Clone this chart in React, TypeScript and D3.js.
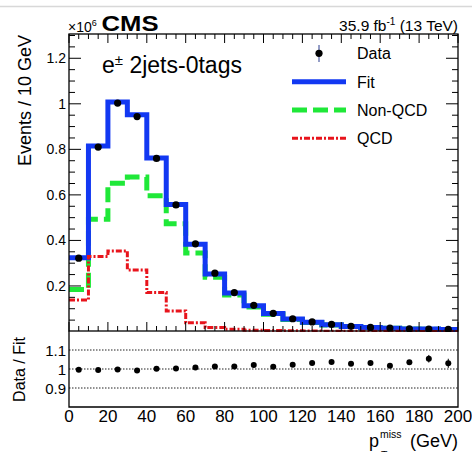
import React from "react";
import * as d3 from "d3";

// bin low edges (GeV), 10 GeV bins
const binLow = [0, 10, 20, 30, 40, 50, 60, 70, 80, 90, 100, 110, 120, 130, 140, 150, 160, 170, 180, 190];
const binHigh = 200;

// Events / 10 GeV, in units of 10^6
const dataVals = [0.322, 0.81, 1.003, 0.944, 0.76, 0.556, 0.385, 0.256, 0.171, 0.115, 0.08, 0.056, 0.042, 0.031, 0.023, 0.018, 0.015, 0.012, 0.011, 0.0095];
const fitVals = [0.324, 0.815, 1.008, 0.952, 0.762, 0.558, 0.383, 0.252, 0.169, 0.113, 0.079, 0.055, 0.041, 0.03, 0.0225, 0.0175, 0.0145, 0.0115, 0.0105, 0.0092];
const nonQcdVals = [0.185, 0.493, 0.651, 0.679, 0.596, 0.473, 0.345, 0.238, 0.16, 0.108, 0.076, 0.053, 0.04, 0.029, 0.022, 0.017, 0.014, 0.011, 0.01, 0.009];
const qcdVals = [0.138, 0.329, 0.354, 0.27, 0.171, 0.09, 0.038, 0.018, 0.01, 0.006, 0.004, 0.003, 0.002, 0.0015, 0.001, 0.001, 0.0008, 0.0006, 0.0005, 0.0004];

// Data / Fit ratio
const ratioVals = [0.996, 0.995, 0.997, 0.992, 1.001, 1.002, 1.008, 1.013, 1.013, 1.021, 1.012, 1.023, 1.031, 1.037, 1.027, 1.031, 1.017, 1.035, 1.054, 1.03];
const ratioErr = [0.002, 0.002, 0.002, 0.002, 0.002, 0.002, 0.003, 0.003, 0.004, 0.004, 0.005, 0.005, 0.006, 0.007, 0.008, 0.009, 0.01, 0.012, 0.02, 0.024];

const xTickVals = [0, 20, 40, 60, 80, 100, 120, 140, 160, 180, 200];
const yTickVals = [0.2, 0.4, 0.6, 0.8, 1.0, 1.2];
const yTickLabels = ["0.2", "0.4", "0.6", "0.8", "1", "1.2"];
const rTickVals = [1.1, 1.0, 0.9];
const rTickLabels = ["1.1", "1", "0.9"];

const legendItems = ["Data", "Fit", "Non-QCD", "QCD"];

const BLUE = "#1238f2";
const GREEN = "#1fe838";
const RED = "#e8141c";
const FONT = "'Liberation Sans', Arial, Helvetica, sans-serif";

export default function App() {
  const L = 69, R = 458, T = 34, MB = 331, RB = 407;
  const x = d3.scaleLinear().domain([0, 200]).range([L, R]);
  const y = d3.scaleLinear().domain([0, 1.3]).range([331.5, 35.5]);
  const yr = d3.scaleLinear().domain([0.8, 1.2]).range([RB, MB]);

  const stepLine = d3
    .line<[number, number]>()
    .x((d) => x(d[0]))
    .y((d) => y(d[1]))
    .curve(d3.curveStepAfter);
  const stepPts = (vals: number[]): [number, number][] =>
    binLow.map((b, i) => [b, vals[i]] as [number, number]).concat([[binHigh, vals[vals.length - 1]]]);

  const centers = binLow.map((b) => b + 5);
  const xMinor = x.ticks(40);
  const yMinor = y.ticks(26).filter((v) => v > 0);

  return (
    <svg width={472} height={452} style={{ position: "absolute", left: 0, top: 0, background: "#fff" }} fontFamily={FONT}>
      <defs>
        <clipPath id="mainclip">
          <rect x={L} y={T} width={R - L} height={MB - T + 1} />
        </clipPath>
      </defs>
      <rect x={0} y={0} width={472} height={452} fill="#fff" />
      <line x1={0} x2={472} y1={6.5} y2={6.5} stroke="#d8d8d8" strokeWidth={1.5} />

      {/* histograms */}
      <g clipPath="url(#mainclip)" fill="none">
        <path d={stepLine(stepPts(nonQcdVals)) || ""} stroke={GREEN} strokeWidth={5} strokeDasharray="15,6" />
        <path d={stepLine(stepPts(fitVals)) || ""} stroke={BLUE} strokeWidth={5} />
        <path d={stepLine(stepPts(qcdVals)) || ""} stroke={RED} strokeWidth={3} strokeDasharray="6,2,2,2" />
        {centers.map((c, i) => (
          <circle key={i} cx={x(c)} cy={y(dataVals[i])} r={3.6} fill="#000" />
        ))}
      </g>

      {/* main frame */}
      <rect x={L} y={T} width={R - L} height={MB - T} fill="none" stroke="#000" strokeWidth={1.3} />
      {/* x ticks main (bottom & top) */}
      {xMinor.map((v, i) => {
        const major = v % 20 === 0;
        const len = major ? 9 : 5;
        return (
          <g key={i} stroke="#000" strokeWidth={1}>
            <line x1={x(v)} x2={x(v)} y1={MB} y2={MB - len} />
            <line x1={x(v)} x2={x(v)} y1={T} y2={T + len} />
          </g>
        );
      })}
      {/* y ticks main (left & right) */}
      {yMinor.map((v, i) => {
        const major = Math.abs(Math.round(v * 5) - v * 5) < 1e-6;
        const len = major ? 12 : 6;
        return (
          <g key={i} stroke="#000" strokeWidth={1}>
            <line x1={L} x2={L + len} y1={y(v)} y2={y(v)} />
            <line x1={R} x2={R - len} y1={y(v)} y2={y(v)} />
          </g>
        );
      })}
      {yTickVals.map((v, i) => (
        <text key={i} x={66} y={y(v) + 5} fontSize={14} textAnchor="end" fill="#000">
          {yTickLabels[i]}
        </text>
      ))}

      {/* ratio panel */}
      {rTickVals.map((v, i) => (
        <line key={i} x1={L} x2={R} y1={yr(v)} y2={yr(v)} stroke="#222" strokeWidth={1} strokeDasharray="1.5,1.5" />
      ))}
      <path d={`M${L},${MB} L${L},${RB} L${R},${RB} L${R},${MB}`} fill="none" stroke="#000" strokeWidth={1.3} />
      {rTickVals.map((v, i) => (
        <text key={i} x={66} y={yr(v) + 5.5} fontSize={15} textAnchor="end" fill="#000">
          {rTickLabels[i]}
        </text>
      ))}
      {centers.map((c, i) => (
        <g key={i}>
          <line x1={x(c)} x2={x(c)} y1={yr(ratioVals[i] - ratioErr[i])} y2={yr(ratioVals[i] + ratioErr[i])} stroke="#000" strokeWidth={1} />
          <circle cx={x(c)} cy={yr(ratioVals[i])} r={3} fill="#000" />
        </g>
      ))}
      {xTickVals.map((v, i) => (
        <text key={i} x={x(v)} y={421.5} fontSize={17} textAnchor="middle" fill="#000">
          {v}
        </text>
      ))}

      {/* axis titles */}
      <text transform="translate(30.5,35) rotate(-90)" fontSize={18} textAnchor="end" fill="#000">
        Events / 10 GeV
      </text>
      <text transform="translate(25,337) rotate(-90)" fontSize={16} textAnchor="end" fill="#000">
        Data / Fit
      </text>
      <text x={369} y={446.5} fontSize={18} fill="#000">p</text>
      <text x={380} y={437.5} fontSize={10.5} fill="#000">miss</text>
      <text x={381} y={459} fontSize={10.5} fill="#000">T</text>
      <text x={458} y={446.5} fontSize={18} textAnchor="end" fill="#000">(GeV)</text>

      {/* header */}
      <text x={68} y={31.5} fontSize={14} fill="#000">
        ×10<tspan fontSize={9} dy={-6}>6</tspan>
      </text>
      <text x={101.5} y={30.7} fontSize={22} fontWeight="bold" fill="#000" textLength={57} lengthAdjust="spacingAndGlyphs">
        CMS
      </text>
      <text x={458} y={30.7} fontSize={15.5} textAnchor="end" fill="#000">
        35.9 fb<tspan fontSize={10} dy={-6}>-1</tspan>
        <tspan dy={6}> (13 TeV)</tspan>
      </text>
      <text x={102} y={72.7} fontSize={23} fill="#000">
        e<tspan fontSize={15} dy={-8}>±</tspan>
        <tspan dy={8}> 2jets-0tags</tspan>
      </text>

      {/* legend */}
      <line x1={319} x2={319} y1={45} y2={62} stroke="#2a3d8f" strokeWidth={1} />
      <circle cx={319} cy={53.3} r={3.6} fill="#000" />
      <line x1={292} x2={346} y1={81.7} y2={81.7} stroke={BLUE} strokeWidth={5} />
      <line x1={292} x2={346} y1={110} y2={110} stroke={GREEN} strokeWidth={5} strokeDasharray="15,6" />
      <line x1={292} x2={346} y1={138.3} y2={138.3} stroke={RED} strokeWidth={3} strokeDasharray="6,2,2,2" />
      {legendItems.map((t, i) => (
        <text key={i} x={357} y={59.3 + i * 28.2} fontSize={16} fill="#000">
          {t}
        </text>
      ))}
    </svg>
  );
}
